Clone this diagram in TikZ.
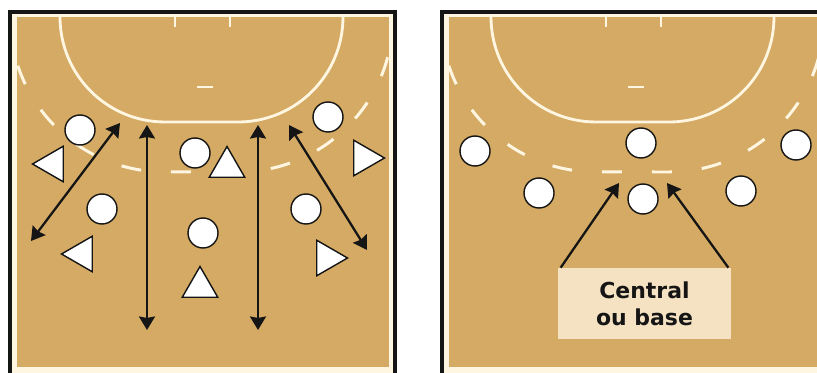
\documentclass[tikz,border=0pt]{standalone}
\usepackage{fontspec}
\usepackage{xcolor}
\usepackage{tikz}
\usetikzlibrary{positioning,arrows.meta,shapes.geometric}
\newfontfamily\tagfont{DejaVu Sans}
\definecolor{court}{HTML}{D4AA64}
\definecolor{courtline}{HTML}{FFF6E2}
\definecolor{tagfill}{HTML}{F4E2C2}
\definecolor{ink}{HTML}{151515}
\tikzset{
  player/.style={
    circle, draw=ink, fill=white, line width=0.8pt,
    minimum size=0.6cm, inner sep=0pt
  },
  defender/.style={
    regular polygon, regular polygon sides=3,
    draw=ink, fill=white, line width=0.8pt,
    minimum size=0.82cm, inner sep=0pt
  },
  sixline/.style={draw=courtline, line width=1.6pt},
  nineline/.style={
    draw=courtline, line width=1.7pt,
    dash pattern=on 0.4cm off 0.6cm, dash phase=0.01cm
  },
  move/.style={
    {Stealth[length=0.27cm,width=0.32cm,inset=0.03cm]}-{Stealth[length=0.27cm,width=0.32cm,inset=0.03cm]},
    line width=1.3pt, draw=ink
  },
  pointer/.style={
    -{Stealth[length=0.27cm,width=0.32cm,inset=0.03cm]},
    line width=1.3pt, draw=ink
  },
  tag/.style={
    rectangle, fill=tagfill, text=ink,
    minimum width=3.46cm, minimum height=1.42cm,
    align=center, font=\tagfont\bfseries\fontsize{12.5pt}{15.4pt}\selectfont
  },
}
\begin{document}
\begin{tikzpicture}[x=0.02cm, y=0.02cm]
  \useasboundingbox (0,0) rectangle (817,372);
  \clip (0,0) rectangle (817,372);
  % left court
  \draw[line width=2.3pt, draw=ink, fill=courtline] (10,360) rectangle (395,-20);
  \fill[court] (16.5,354.5) rectangle (388.5,5);
  \begin{scope}
    \clip (16.5,354.5) rectangle (388.5,5);
    \draw[sixline] (60,365) -- (60,355) arc[start angle=180, end angle=270, radius=2.1cm]
      -- (238,250) arc[start angle=270, end angle=360, radius=2.1cm] -- (343,365);
    \draw[nineline] (10,355) arc[start angle=180, end angle=270, radius=3.1cm]
      -- (238,200) arc[start angle=270, end angle=360, radius=3.1cm];
    \draw[sixline] (175,356) -- (175,345) (230,356) -- (230,345);
    \draw[sixline] (197,285) -- (213,285);
  \end{scope}
  % right court
  \draw[line width=2.3pt, draw=ink, fill=courtline] (442,360) rectangle (827,-20);
  \fill[court] (448.5,354.5) rectangle (835,5);
  \begin{scope}
    \clip (448.5,354.5) rectangle (835,5);
    \draw[sixline] (491,365) -- (491,355) arc[start angle=180, end angle=270, radius=2.1cm]
      -- (669,250) arc[start angle=270, end angle=360, radius=2.1cm] -- (774,365);
    \draw[nineline] (441,355) arc[start angle=180, end angle=270, radius=3.1cm]
      -- (669,200) arc[start angle=270, end angle=360, radius=3.1cm];
    \draw[sixline] (606,356) -- (606,345) (661,356) -- (661,345);
    \draw[sixline] (628,285) -- (644,285);
  \end{scope}

  % left: runs
  \coordinate (runAtop) at (120,249);
  \coordinate (runAbot) at (31,131);
  \coordinate (runBtop) at (147,247);
  \coordinate (runBbot) at (147,42);
  \coordinate (runCtop) at (258,247);
  \coordinate (runCbot) at (258,42);
  \coordinate (runDtop) at (289,247);
  \coordinate (runDbot) at (367,122);
  \draw[move] (runAtop) -- (runAbot);
  \draw[move] (runBtop) -- (runBbot);
  \draw[move] (runCtop) -- (runCbot);
  \draw[move] (runDtop) -- (runDbot);

  % left: players
  \node[player] (lp1) at (80,242) {};
  \node[player] (lp2) at (195,219) {};
  \node[player] (lp3) at (328,255) {};
  \node[player] (lp4) at (102,163) {};
  \node[player] (lp5) at (203,139) {};
  \node[player] (lp6) at (306,163) {};
  \node[defender, rotate=90] (ld1) at (53,208) {};
  \node[defender, rotate=90] (ld2) at (82,118) {};
  \node[defender] (ld3) at (227,205) {};
  \node[defender] (ld4) at (200,85) {};
  \node[defender, rotate=-90] (ld5) at (364,214) {};
  \node[defender, rotate=-90] (ld6) at (327,114) {};

  % right: players
  \node[player] (rp1) at (475,221) {};
  \node[player] (rp2) at (641,229) {};
  \node[player] (rp3) at (796,227) {};
  \node[player] (rp4) at (539,179) {};
  \node[player] (rp5) at (643,173) {};
  \node[player] (rp6) at (741,181) {};

  % right: pivot label
  \node[tag] (pivot) at (644.5,68.5) {Central\\ou base};
  \coordinate (pivotL) at (619,189);
  \coordinate (pivotR) at (667,189);
  \draw[pointer] ([xshift=0.06cm]pivot.north west) -- (pivotL);
  \draw[pointer] ([xshift=-0.06cm]pivot.north east) -- (pivotR);
\end{tikzpicture}
\end{document}
